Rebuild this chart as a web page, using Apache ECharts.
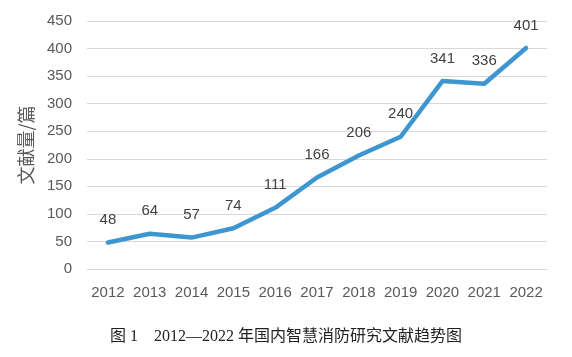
<!DOCTYPE html>
<html><head><meta charset="utf-8">
<script src="https://cdn.jsdelivr.net/npm/echarts@6/dist/echarts.min.js"></script>
<style>html,body{margin:0;padding:0;background:#fff;}#c{width:572px;height:357px;}</style>
</head><body><div id="c"></div>
<script>
const years = ['2012','2013','2014','2015','2016','2017','2018','2019','2020','2021','2022'];
const counts = [48,64,57,74,111,166,206,240,341,336,401];
const yName = '文献量/篇';
const caption = '图 1　2012—2022 年国内智慧消防研究文献趋势图';
const chart = echarts.init(document.getElementById('c'), null, {renderer:'canvas'});
chart.setOption({
  animation:false,
  backgroundColor:'#fff',
  grid:{left:87,right:25,top:21,bottom:88},
  xAxis:{type:'category',data:years,boundaryGap:true,
    axisLine:{show:true,lineStyle:{color:'#d9d9d9',width:1}},
    axisTick:{show:false},
    axisLabel:{interval:0,color:'#595959',fontSize:15,margin:16,fontFamily:'Liberation Sans, Arial, sans-serif'}},
  yAxis:{type:'value',min:0,max:450,interval:50,
    name:yName,nameLocation:'middle',nameGap:52,nameRotate:90,
    nameTextStyle:{color:'#595959',fontSize:18,fontFamily:'Noto Sans CJK SC'},
    axisLine:{show:false},axisTick:{show:false},
    axisLabel:{color:'#595959',fontSize:15,margin:15,fontFamily:'Liberation Sans, Arial, sans-serif'},
    splitLine:{lineStyle:{color:'#d9d9d9',width:1}}},
  series:[{type:'line',data:counts,symbol:'circle',symbolSize:2,showSymbol:true,
    itemStyle:{color:'rgba(0,0,0,0)',borderWidth:0},
    lineStyle:{color:'#3d96d0',width:4.5,cap:'round',join:'round'},
    label:{show:true,position:'top',distance:14,color:'#404040',fontSize:15,fontFamily:'Liberation Sans, Arial, sans-serif'}}],
  graphic:[{type:'text',left:'center',top:329,style:{text:caption,fill:'#222',fontSize:16,fontFamily:'Liberation Serif, Noto Sans CJK SC'}}]
});
</script></body></html>
